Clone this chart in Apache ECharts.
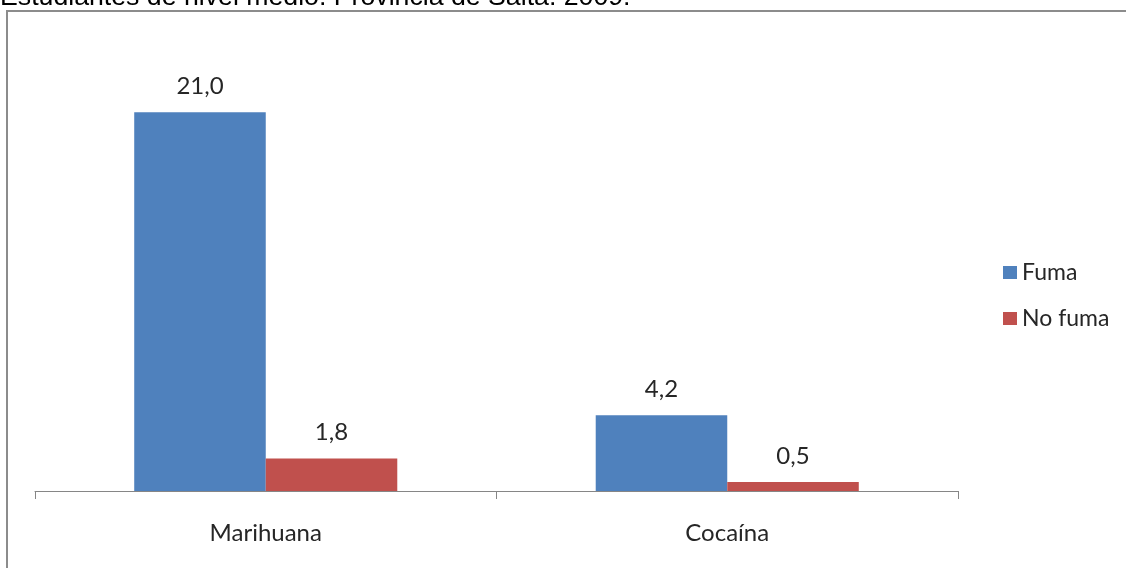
<!DOCTYPE html>
<html>
<head>
<meta charset="utf-8">
<script src="https://cdn.jsdelivr.net/npm/echarts@6/dist/echarts.min.js"></script>
<style>
html,body{margin:0;padding:0;background:#fff;}
#c{width:1126px;height:568px;}
</style>
</head>
<body>
<div id="c"></div>
<script>
var titleText = 'Estudiantes de nivel medio. Provincia de Salta. 2009.';
var categories = ['Marihuana', 'Cocaína'];
var seriesNames = ['Fuma', 'No fuma'];
var fumaValues = [21.0, 4.2];
var noFumaValues = [1.8, 0.5];

var chart = echarts.init(document.getElementById('c'));
var labelFmt = function (p) { return p.value.toFixed(1).replace('.', ','); };
chart.setOption({
  animation: false,
  backgroundColor: '#ffffff',
  graphic: [
    {
      type: 'rect',
      shape: { x: 7, y: 11, width: 1140, height: 600 },
      style: { fill: 'none', stroke: '#8c8c8c', lineWidth: 2 },
      z: 0
    },
    {
      type: 'text',
      x: 0,
      y: -2.5,
      style: {
        text: titleText,
        font: '26.7px "Liberation Sans", Arial, sans-serif',
        fill: '#000000',
        verticalAlign: 'middle',
        align: 'left'
      }
    }
  ],
  legend: {
    orient: 'vertical',
    left: 998,
    top: 256,
    itemWidth: 14,
    itemHeight: 13,
    itemGap: 23,
    icon: 'rect',
    data: seriesNames,
    textStyle: { fontFamily: 'Lato', fontSize: 23, color: '#262626', padding: [0, 0, 0, 0] }
  },
  grid: { left: 35, right: 168, top: 58, bottom: 77, containLabel: false },
  xAxis: {
    type: 'category',
    data: categories,
    axisLine: { lineStyle: { color: '#868686', width: 1 } },
    axisTick: { show: true, length: 8, lineStyle: { color: '#868686' } },
    axisLabel: { fontFamily: 'Lato', fontSize: 24, color: '#262626', margin: 30 }
  },
  yAxis: {
    type: 'value',
    min: 0,
    max: 24,
    show: false,
    splitLine: { show: false }
  },
  series: [
    {
      name: seriesNames[0],
      type: 'bar',
      data: fumaValues,
      barGap: '0%',
      barCategoryGap: '43%',
      itemStyle: { color: '#4F81BD' },
      label: { show: true, position: 'top', distance: 14, formatter: labelFmt, fontFamily: 'Lato', fontSize: 24, color: '#262626' }
    },
    {
      name: seriesNames[1],
      type: 'bar',
      data: noFumaValues,
      itemStyle: { color: '#C0504D' },
      label: { show: true, position: 'top', distance: 14, formatter: labelFmt, fontFamily: 'Lato', fontSize: 24, color: '#262626' }
    }
  ]
});
</script>
</body>
</html>
